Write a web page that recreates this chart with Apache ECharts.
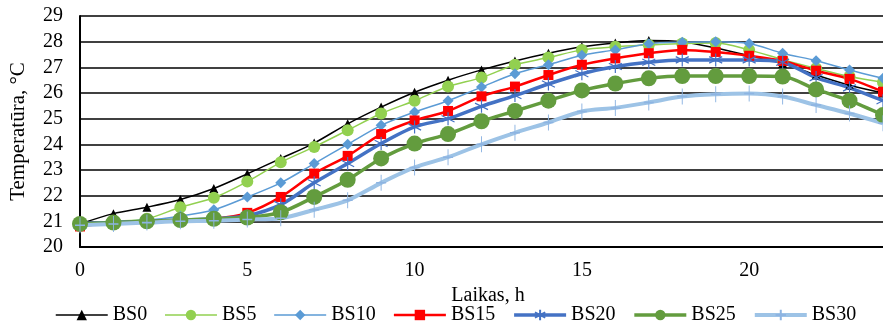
<!DOCTYPE html>
<html>
<head>
<meta charset="utf-8">
<script src="https://cdn.jsdelivr.net/npm/echarts@6/dist/echarts.min.js"></script>
<style>
  html, body { margin: 0; padding: 0; background: #fff; }
  #chart { width: 883px; height: 330px; }
</style>
</head>
<body>
<div id="chart"></div>
<script>
// stundas
const hours = [0,1,2,3,4,5,6,7,8,9,10,11,12,13,14,15,16,17,18,19,20,21,22,23,24];

// temperatūras pa sērijām, °C
const bs0  = [20.9,21.3,21.55,21.85,22.28,22.85,23.45,24.05,24.8,25.45,26.03,26.5,26.9,27.25,27.55,27.8,27.95,28.05,28.0,27.75,27.45,27.15,26.7,26.3,26.0];
const bs5  = [20.9,21.0,21.1,21.55,21.92,22.55,23.3,23.9,24.55,25.2,25.7,26.25,26.6,27.1,27.38,27.68,27.8,27.87,27.93,27.95,27.68,27.3,26.96,26.64,26.42];
const bs10 = [20.95,21.0,21.05,21.2,21.45,21.95,22.5,23.25,24.0,24.74,25.26,25.7,26.23,26.75,27.1,27.47,27.68,27.92,27.98,28.0,27.93,27.55,27.26,26.9,26.57];
const bs15 = [20.8,20.95,21.0,21.05,21.1,21.33,21.95,22.86,23.55,24.4,24.93,25.3,25.87,26.25,26.7,27.1,27.35,27.55,27.68,27.6,27.45,27.25,26.87,26.55,26.05];
const bs20 = [20.85,20.95,21.0,21.05,21.1,21.22,21.65,22.5,23.25,24.03,24.68,25.0,25.48,25.9,26.35,26.75,27.03,27.2,27.29,27.29,27.29,27.2,26.6,26.2,25.7];
const bs25 = [20.9,20.95,21.0,21.05,21.1,21.15,21.35,21.95,22.62,23.45,24.03,24.4,24.9,25.3,25.7,26.1,26.37,26.57,26.66,26.66,26.66,26.64,26.14,25.7,25.14];
const bs30 = [20.85,20.9,20.95,21.0,21.02,21.07,21.12,21.45,21.82,22.5,23.1,23.5,24.0,24.45,24.85,25.28,25.42,25.63,25.86,25.95,25.98,25.86,25.53,25.2,24.82];

const names = ['BS0','BS5','BS10','BS15','BS20','BS25','BS30'];
const widths = [1.5, 1.5, 1.5, 2.5, 3.5, 3.5, 4];

const font = 'Liberation Serif';
const star = 'path://M5,0L5,10M0.7,2.5L9.3,7.5M0.7,7.5L9.3,2.5';
const plus = 'path://M5,0L5,10M1,5L9,5';

function pts(vals) {
    return hours.map((h, i) => [h, vals[i]]);
}

// viena līnija ar marķieri
function line(name, vals, color, width, symbol, size, extra) {
    return Object.assign({
        name: name,
        type: 'line',
        data: pts(vals),
        smooth: 0.3,
        symbol: symbol,
        symbolSize: size,
        showAllSymbol: true,
        lineStyle: { color: color, width: width },
        itemStyle: { color: color },
        emphasis: { disabled: true }
    }, extra || {});
}

const chart = echarts.init(document.getElementById('chart'));

chart.setOption({
    animation: false,
    backgroundColor: '#fff',
    grid: { left: 76, right: 0, top: 16, bottom: 83 },
    legend: {
        left: 50,
        bottom: 0,
        itemWidth: 52,
        itemHeight: 13,
        itemGap: 17,
        textStyle: { fontFamily: font, fontSize: 20, color: '#000' },
        data: names.map((n, i) => ({ name: n, lineStyle: { width: widths[i] } }))
    },
    xAxis: {
        type: 'value',
        min: 0,
        max: 24,
        interval: 5,
        name: 'Laikas, h',
        nameLocation: 'middle',
        nameGap: 35,
        nameTextStyle: { fontFamily: font, fontSize: 20, color: '#000', padding: [0, 0, 0, 13] },
        axisLine: { show: true, lineStyle: { color: '#000', width: 2 } },
        axisTick: { show: false },
        axisLabel: { fontFamily: font, fontSize: 20, color: '#000', margin: 14, showMaxLabel: false },
        splitLine: { show: false }
    },
    yAxis: {
        type: 'value',
        min: 20,
        max: 29,
        interval: 1,
        name: 'Temperatūra, °C',
        nameLocation: 'middle',
        nameGap: 51,
        nameTextStyle: { fontFamily: font, fontSize: 21, color: '#000' },
        axisLine: { show: true, lineStyle: { color: '#000', width: 2 } },
        axisTick: { show: false },
        axisLabel: { fontFamily: font, fontSize: 20, color: '#000', margin: 17 },
        splitLine: { show: true, lineStyle: { color: '#000', width: 1.5 } }
    },
    series: [
        line('BS0', bs0, '#000000', widths[0], 'triangle', 9),
        line('BS5', bs5, '#92D050', widths[1], 'circle', 12),
        line('BS10', bs10, '#5B9BD5', widths[2], 'diamond', 11),
        line('BS15', bs15, '#FF0000', widths[3], 'rect', 10),
        line('BS20', bs20, '#4472C4', widths[4], star, 13, {
            itemStyle: { color: '#4472C4', borderColor: '#4472C4', borderWidth: 1.2 }
        }),
        line('BS25', bs25, '#639C3E', widths[5], 'circle', 16),
        line('BS30', bs30, '#9DC3E6', widths[6], plus, [10, 16], {
            itemStyle: { color: '#9DC3E6', borderColor: '#8DB4E2', borderWidth: 1.2 }
        })
    ]
});
</script>
</body>
</html>
